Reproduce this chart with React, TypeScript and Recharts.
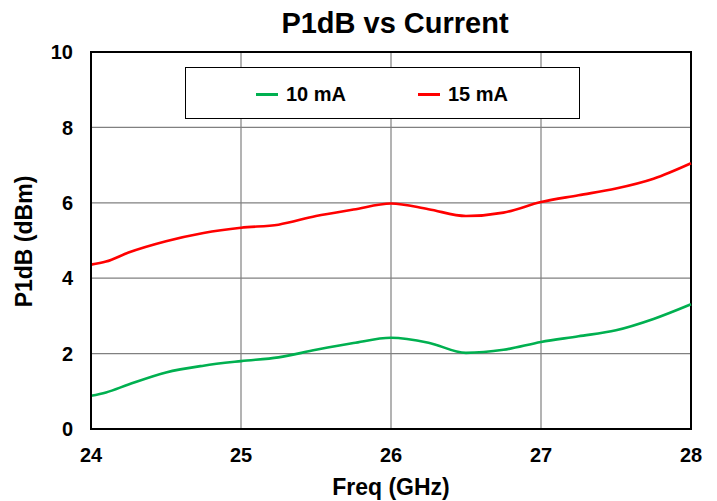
import React from "react";
import { LineChart, Line, XAxis, YAxis, CartesianGrid, ReferenceArea, Label } from "recharts";

const freqs = [24, 24.1, 24.25, 24.5, 24.75, 25, 25.25, 25.5, 25.75, 26, 26.25, 26.5, 26.75, 27, 27.25, 27.5, 27.75, 28];
const ma10 = [0.88, 0.97, 1.18, 1.5, 1.68, 1.8, 1.9, 2.1, 2.28, 2.42, 2.29, 2.02, 2.1, 2.31, 2.46, 2.62, 2.92, 3.31];
const ma15 = [4.36, 4.44, 4.68, 4.98, 5.2, 5.34, 5.42, 5.65, 5.82, 5.98, 5.83, 5.65, 5.74, 6.02, 6.2, 6.38, 6.64, 7.05];
const xTicks = [24, 25, 26, 27, 28];
const yTicks = [0, 2, 4, 6, 8, 10];
const seriesNames = ["10 mA", "15 mA"];
const colors = ["#00B050", "#FF0000"];

const data = freqs.map((f, i) => ({ f, a: ma10[i], b: ma15[i] }));

const FONT = "'Liberation Sans', Arial, sans-serif";

const YTitle = (props: any) => {
  const vb = props.viewBox || { x: 0, y: 44, width: 83, height: 377 };
  const cx = 16;
  const cy = vb.y + vb.height / 2 + 1;
  return (
    <text
      x={cx}
      y={cy}
      transform={`rotate(-90, ${cx}, ${cy})`}
      textAnchor="middle"
      dominantBaseline="central"
      fill="#000"
      fontFamily={FONT}
      fontWeight="bold"
      fontSize={23}
    >
      P1dB (dBm)
    </text>
  );
};

export default function App() {
  return (
    <div style={{ position: "relative", width: 709, height: 493, background: "#fff" }}>
      <LineChart width={709} height={493} data={data} margin={{ top: 44, right: 26, left: 0, bottom: 0 }}>
        <CartesianGrid stroke="#808080" strokeWidth={1.2} />
        <ReferenceArea x1={24} x2={28} y1={0} y2={10} fill="none" stroke="#000" strokeWidth={2} />
        <XAxis
          dataKey="f"
          type="number"
          domain={[24, 28]}
          ticks={xTicks}
          height={72}
          axisLine={{ stroke: "#000", strokeWidth: 2 }}
          tickLine={false}
          tick={{ fill: "#000", fontFamily: FONT, fontWeight: "bold", fontSize: 20 }}
          tickMargin={13}
        >
          <Label value="Freq (GHz)" position="insideBottom" offset={6} style={{ fill: "#000", fontFamily: FONT, fontWeight: "bold", fontSize: 23 }} />
        </XAxis>
        <YAxis
          type="number"
          domain={[0, 10]}
          ticks={yTicks}
          width={83}
          axisLine={{ stroke: "#000", strokeWidth: 2 }}
          tickLine={false}
          tick={{ fill: "#000", fontFamily: FONT, fontWeight: "bold", fontSize: 20 }}
          tickMargin={12}
        >
          <Label content={<YTitle />} />
        </YAxis>
        <Line dataKey="a" name={seriesNames[0]} type="monotone" stroke={colors[0]} strokeWidth={2.6} dot={false} isAnimationActive={false} />
        <Line dataKey="b" name={seriesNames[1]} type="monotone" stroke={colors[1]} strokeWidth={2.6} dot={false} isAnimationActive={false} />
      </LineChart>
      <div
        style={{
          position: "absolute",
          left: 0,
          width: 774,
          top: 0,
          lineHeight: "30px",
          textAlign: "center",
          fontFamily: FONT,
          fontWeight: "bold",
          fontSize: 29,
          color: "#000",
        }}
      >
        P1dB vs Current
      </div>
      <div
        style={{
          position: "absolute",
          left: 177,
          top: 59,
          width: 395,
          height: 52,
          boxSizing: "border-box",
          border: "1px solid #000",
          background: "#fff",
          fontFamily: FONT,
          fontWeight: "bold",
          fontSize: 20,
          color: "#000",
        }}
      >
        {seriesNames.map((n, i) => (
          <div
            key={n}
            style={{ position: "absolute", left: i === 0 ? 70 : 232, top: 14, height: 24, display: "flex", alignItems: "center", whiteSpace: "nowrap" }}
          >
            <div style={{ width: 22, height: 3, background: colors[i], marginRight: 8 }} />
            <span style={{ lineHeight: "24px" }}>{n}</span>
          </div>
        ))}
      </div>
    </div>
  );
}
